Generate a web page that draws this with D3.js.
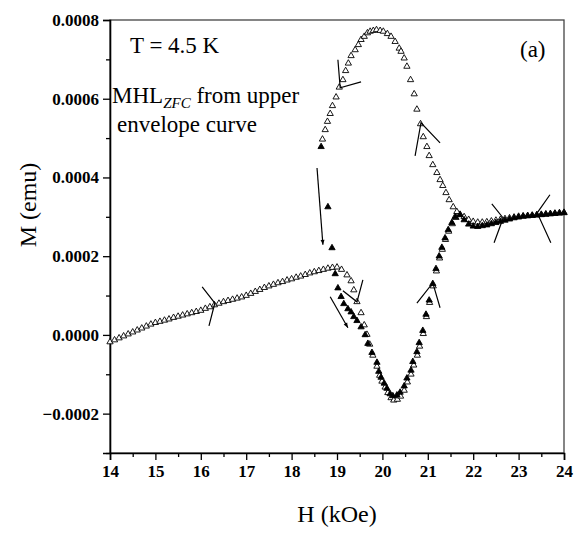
<!DOCTYPE html>
<html>
<head>
<meta charset="utf-8">
<script src="https://cdn.jsdelivr.net/npm/d3@7"></script>
<style>
  body { margin: 0; background: #fff; }
</style>
</head>
<body>
<div id="wrapper"></div>
<script>
// sweep branch (open triangles): 14 kOe -> 24 kOe
const sweepH = [14.0,14.1,14.2,14.3,14.4,14.5,14.6,14.7,14.8,14.9,15.0,15.1,15.2,15.3,15.4,15.5,15.6,15.7,15.8,15.9,
  16.0,16.1,16.2,16.3,16.4,16.5,16.6,16.7,16.8,16.9,17.0,17.1,17.2,17.3,17.4,17.5,17.6,17.7,17.8,17.9,
  18.0,18.1,18.2,18.3,18.4,18.5,18.6,18.7,18.8,18.9,19.0,19.1,
  19.22,19.31,19.37,19.44,19.53,19.6,19.66,19.72,19.79,19.88,19.94,19.99,20.06,20.12,20.19,20.25,20.33,20.4,
  20.48,20.55,20.63,20.69,20.77,20.82,20.9,20.97,21.04,21.12,21.19,21.26,21.32,21.39,21.46,21.54,21.62,21.71,
  21.8,21.9,22.0,22.1,22.2,22.3,22.4,22.5,22.6,22.7,22.8,22.9,23.0,23.1,23.2,23.3,23.4,23.5,23.6,23.7,23.8,23.9,24.0];
const sweepM = [-0.000018,-0.000013,-0.000008,-0.000003,0.000002,0.000007,0.000012,0.000017,0.000022,0.000027,
  0.000031,0.000034,0.000037,0.000040,0.000044,0.000047,0.000050,0.000053,0.000056,0.000059,
  0.000062,0.000067,0.000071,0.000076,0.000080,0.000084,0.000087,0.000090,0.000093,0.000096,
  0.000100,0.000105,0.000110,0.000115,0.000120,0.000124,0.000128,0.000132,0.000135,0.000139,
  0.000142,0.000146,0.000149,0.000153,0.000157,0.000160,0.000163,0.000166,0.000169,0.000171,0.000172,0.000166,
  0.000152,0.000137,0.000114,0.000084,0.000056,0.000025,0.000001,-0.000024,-0.000052,-0.000080,-0.000103,-0.000118,
  -0.000133,-0.000147,-0.000160,-0.000166,-0.000164,-0.000156,-0.000141,-0.000120,-0.000100,-0.000077,-0.000052,-0.000029,
  0.000003,0.000046,0.000082,0.000124,0.000162,0.000195,0.000217,0.000242,0.000263,0.000282,0.000298,0.000306,
  0.000300,0.000293,0.000288,0.000286,0.000286,0.000287,0.000289,0.000291,0.000293,0.000295,0.000297,0.000299,
  0.000301,0.000302,0.000303,0.000304,0.000305,0.000306,0.000307,0.000308,0.000309,0.000310,0.000311];

// upper envelope curve (open triangles)
const envH = [18.68,18.74,18.79,18.85,18.9,18.98,19.05,19.13,19.19,19.25,19.31,19.4,19.47,19.53,19.6,19.67,19.73,19.8,
  19.87,19.95,20.02,20.11,20.19,20.28,20.37,20.41,20.48,20.54,20.62,20.7,20.76,20.84,20.9,20.98,21.03,21.11,21.2,
  21.27,21.33,21.4,21.47,21.56,21.64];
const envM = [0.000497,0.000521,0.000542,0.000562,0.000582,0.000604,0.000629,0.000648,0.000671,0.000690,0.000709,
  0.000724,0.000737,0.000750,0.000758,0.000767,0.000771,0.000773,0.000775,0.000773,0.000771,0.000765,0.000758,
  0.000745,0.000728,0.000720,0.000703,0.000682,0.000648,0.000612,0.000573,0.000536,0.000503,0.000478,0.000455,
  0.000432,0.000412,0.000394,0.000379,0.000361,0.000343,0.000325,0.000313];

// return branch (filled triangles): 24 kOe -> 18.65 kOe
const backH = [24.0,23.9,23.8,23.7,23.6,23.5,23.4,23.3,23.2,23.1,23.0,22.9,22.8,22.7,22.6,22.5,22.4,22.3,22.2,22.1,22.0,21.9,21.8,
  21.71,21.6,21.53,21.45,21.38,21.31,21.25,21.18,21.11,21.03,20.96,20.89,20.81,20.76,20.67,20.63,20.54,20.48,20.39,
  20.32,20.23,20.17,20.1,20.04,19.97,19.92,19.88,19.77,19.68,19.62,19.53,19.44,19.37,19.31,19.24,19.15,19.09,19.02,
  18.96,18.89,18.8,18.65];
const backM = [0.000310,0.000309,0.000308,0.000307,0.000306,0.000305,0.000304,0.000303,0.000302,0.000301,0.000299,
  0.000297,0.000294,0.000291,0.000288,0.000285,0.000282,0.000279,0.000277,0.000275,0.000276,0.000281,0.000292,
  0.000305,0.000300,0.000285,0.000267,0.000246,0.000222,0.000200,0.000168,0.000130,0.000088,0.000052,0.000011,
  -0.000020,-0.000043,-0.000068,-0.000090,-0.000110,-0.000130,-0.000146,-0.000153,-0.000155,-0.000150,-0.000136,
  -0.000123,-0.000108,-0.000093,-0.000070,-0.000045,-0.000022,0.000000,0.000020,0.000036,0.000046,0.000058,
  0.000066,0.000079,0.000097,0.000119,0.000155,0.000221,0.000325,0.000478];

const xTicks = [14,15,16,17,18,19,20,21,22,23,24];
const yTicks = [-0.0002,0.0000,0.0002,0.0004,0.0006,0.0008];

// arrowhead marks (arm, tip, arm) in data units
const chevrons = [
  [[16.03,0.000122],[16.31,0.000081],[16.18,0.000023]],
  [[19.13,0.000112],[19.44,0.000084],[19.57,0.000140]],
  [[20.76,0.000081],[21.11,0.000132],[21.27,0.000069]],
  [[19.02,0.000699],[19.07,0.000628],[19.53,0.000643]],
  [[20.72,0.000455],[20.85,0.000539],[21.27,0.000488]],
  [[22.41,0.000333],[22.66,0.000297],[22.46,0.000234]],
  [[23.69,0.000356],[23.41,0.000310],[23.71,0.000234]]
];
const arrows = [
  [[18.56,0.000424],[18.69,0.000229]],
  [[18.85,0.000097],[19.24,0.000018]]
];

var margin = {top: 20, right: 11, bottom: 81, left: 110},
    width = 575 - margin.left - margin.right,
    height = 534 - margin.top - margin.bottom;

var svgRoot = d3.select("#wrapper")
  .append("svg")
    .attr("width", 575)
    .attr("height", 534)
    .attr("font-family", "Liberation Serif");

svgRoot.append("defs").append("marker")
    .attr("id", "head")
    .attr("viewBox", "0 0 10 10")
    .attr("refX", 10).attr("refY", 5)
    .attr("markerWidth", 10).attr("markerHeight", 5)
    .attr("markerUnits", "userSpaceOnUse")
    .attr("orient", "auto")
  .append("path")
    .attr("d", "M0,1 L10,5 L0,9 Z")
    .attr("fill", "#000");

var svg = svgRoot.append("g")
    .attr("transform", "translate(" + margin.left + "," + margin.top + ")");

var x = d3.scaleLinear().domain([14, 24]).range([0, width]);
var y = d3.scaleLinear().domain([-0.0003, 0.0008]).range([height, 0]);

// frame
svg.append("rect")
  .attr("width", width).attr("height", height)
  .attr("fill", "none").attr("stroke", "#444").attr("stroke-width", 1.3);

// minor ticks
svg.append("g")
  .attr("transform", "translate(0," + height + ")")
  .call(d3.axisBottom(x).tickValues(d3.range(14.5, 24, 1)).tickSize(4).tickFormat(""))
  .call(g => g.select(".domain").remove());
svg.append("g")
  .call(d3.axisLeft(y).tickValues([-0.0003,-0.0001,0.0001,0.0003,0.0005,0.0007]).tickSize(4).tickFormat(""))
  .call(g => g.select(".domain").remove());

// major axes
var xAxis = svg.append("g")
  .attr("transform", "translate(0," + height + ")")
  .call(d3.axisBottom(x).tickValues(xTicks).tickSize(7).tickPadding(5).tickFormat(d3.format("d")));
var yAxis = svg.append("g")
  .call(d3.axisLeft(y).tickValues(yTicks).tickSize(7).tickPadding(4).tickFormat(d3.format(".4f")));

[xAxis, yAxis].forEach(function(a) {
  a.attr("font-family", "Liberation Serif").attr("font-size", 17).attr("font-weight", "bold");
  a.select(".domain").attr("stroke-width", 1.6);
  a.selectAll("text").attr("fill", "#000");
});
svg.selectAll(".tick line").attr("stroke-width", 1.3);

// data
var tri = d3.symbol().type(d3.symbolTriangle).size(17);

function drawSeries(hs, ms, filled) {
  svg.append("g").selectAll("path")
    .data(d3.zip(hs, ms))
    .enter()
    .append("path")
      .attr("d", tri)
      .attr("transform", function(d) { return "translate(" + x(d[0]) + "," + y(d[1]) + ")"; })
      .attr("fill", filled ? "#000" : "#fff")
      .attr("stroke", "#000")
      .attr("stroke-width", 0.9);
}
drawSeries(sweepH, sweepM, false);
drawSeries(envH, envM, false);
drawSeries(backH, backM, true);

// annotations
var line = d3.line().x(d => x(d[0])).y(d => y(d[1]));
svg.append("g").selectAll("path")
  .data(chevrons)
  .enter()
  .append("path")
    .attr("d", line)
    .attr("fill", "none")
    .attr("stroke", "#000")
    .attr("stroke-width", 1.2);
svg.append("g").selectAll("path")
  .data(arrows)
  .enter()
  .append("path")
    .attr("d", line)
    .attr("fill", "none")
    .attr("stroke", "#000")
    .attr("stroke-width", 1.2)
    .attr("marker-end", "url(#head)");

// labels
function label(xp, yp, size) {
  return svgRoot.append("text")
    .attr("x", xp).attr("y", yp)
    .style("font-family", "Liberation Serif")
    .style("font-size", size + "px")
    .attr("fill", "#000");
}

label(130, 53, 23).text("T = 4.5 K");
label(520, 57, 23).text("(a)");

var t1 = label(112, 103, 23);
t1.append("tspan").text("MHL");
t1.append("tspan")
  .attr("dy", 5)
  .style("font-size", "15px")
  .style("font-style", "italic")
  .text("ZFC");
t1.append("tspan")
  .attr("dy", -5)
  .text(" from upper");

label(117, 132, 23).text("envelope curve");

label(margin.left + width / 2, 522, 24)
  .attr("text-anchor", "middle")
  .text("H (kOe)");

label(0, 0, 24)
  .attr("transform", "translate(36,205) rotate(-90)")
  .attr("text-anchor", "middle")
  .text("M (emu)");
</script>
</body>
</html>
